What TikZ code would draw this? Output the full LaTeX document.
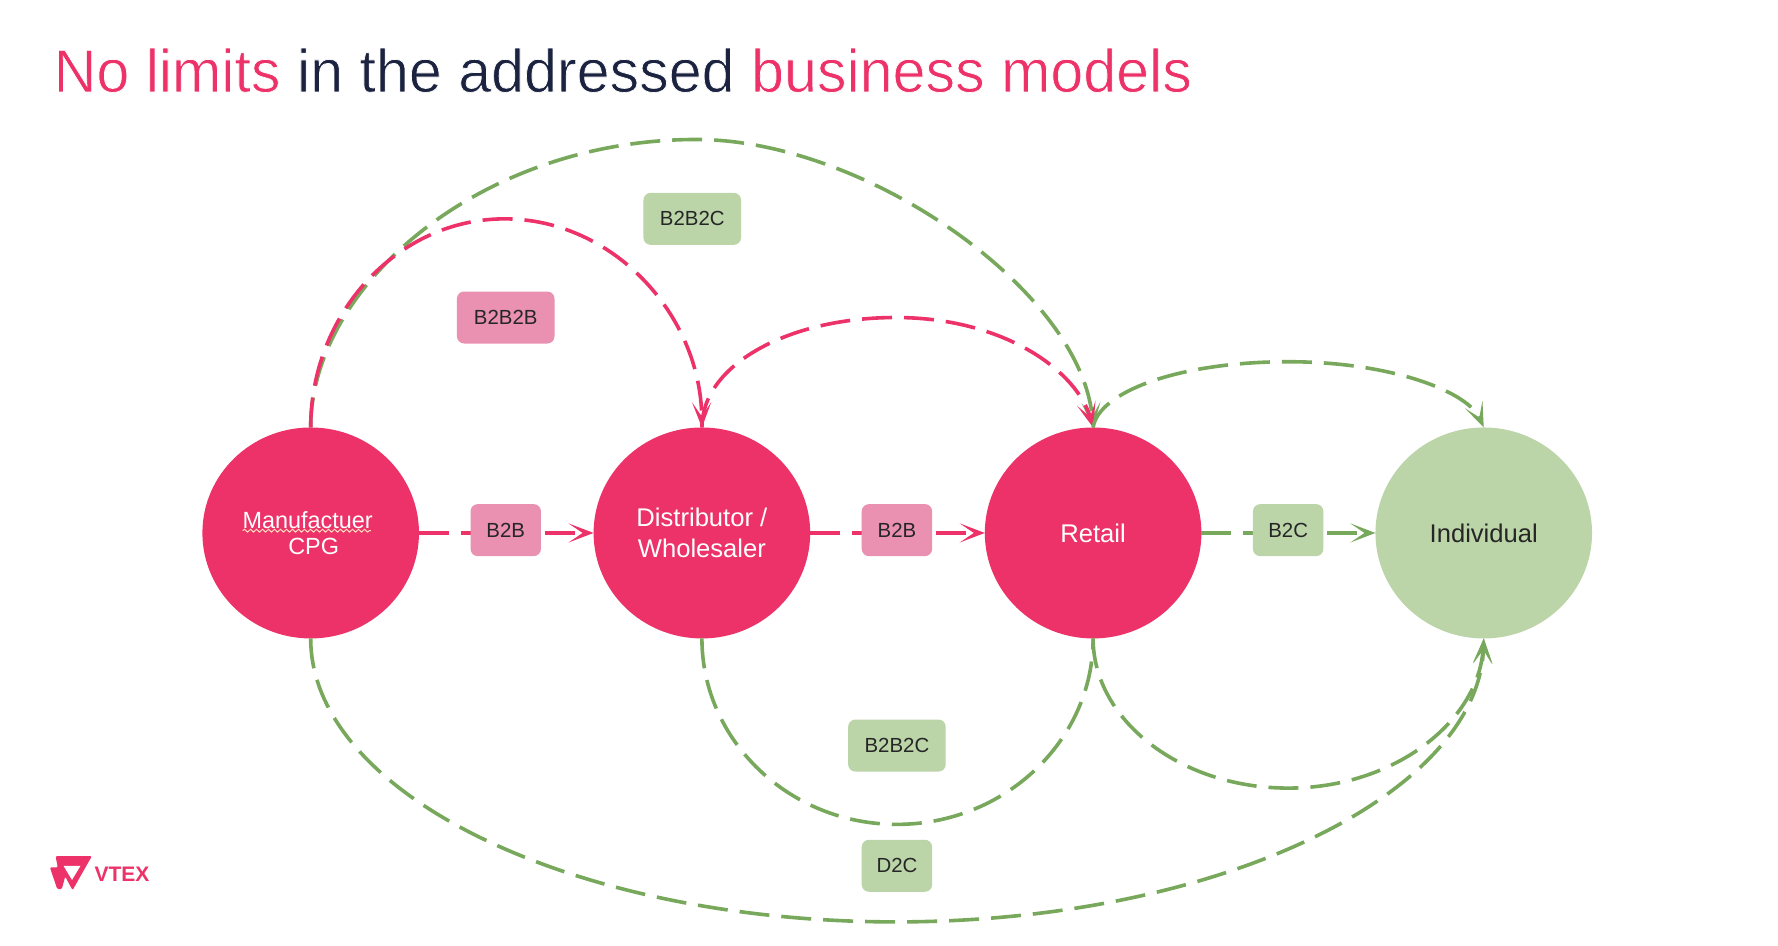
\documentclass[tikz,border=0pt]{standalone}
\usepackage{fontspec}
\setmainfont{Liberation Sans}
\usetikzlibrary{shapes.geometric,arrows.meta,decorations.pathmorphing}
\definecolor{vpink}{HTML}{EC3268}
\definecolor{vlpink}{HTML}{EA90B0}
\definecolor{vgreen}{HTML}{BBD5A9}
\definecolor{vdgreen}{HTML}{78A85B}
\definecolor{vnavy}{HTML}{1B2340}
\newcommand{\thintext}[2]{\textcolor{#1}{\special{pdf:code 2 Tr 0.35 w 1 1 1 RG}#2\special{pdf:code 0 Tr}}}
\tikzset{
  party/.style={ellipse,minimum width=108.3pt,minimum height=105.5pt,inner sep=0pt,outer sep=0pt,align=center,
    font=\fontsize{12.8}{15.4}\selectfont},
  pinkparty/.style={party,fill=vpink,text=white},
  greenparty/.style={party,fill=vgreen,text=black!85},
  tag/.style={rounded corners=3.6pt,minimum height=26pt,inner sep=0pt,outer sep=0pt,text=black!85,
    font=\fontsize{10.2}{12}\selectfont},
  tagshort/.style={tag,minimum width=35.2pt},
  taglong/.style={tag,minimum width=48.8pt},
  flow/.style={line width=1.8pt,dash pattern=on 15pt off 6pt},
  pinkflow/.style={flow,draw=vpink},
  greenflow/.style={flow,draw=vdgreen},
  head/.style={-{Stealth[length=12.5pt,width=9.5pt,inset=7pt]}},
}
\begin{document}
\begin{tikzpicture}[x=0.567pt,y=-0.567pt]
\useasboundingbox (0,0) rectangle (1568,834.2);
\fill[white] (0,0) rectangle (1568,834.2);
\node[anchor=base west,inner sep=0pt,font=\addfontfeature{FakeStretch=0.98}\fontsize{30.2}{36}\selectfont] (title) at (47,81)
  {\thintext{vpink}{No limits} \thintext{vnavy}{in the addressed} \thintext{vpink}{business models}};

\node[pinkparty,font=\fontsize{11.7}{13}\selectfont] (mfr) at (274,470) {Manufactuer\hspace*{3pt}\\\hspace*{3pt}CPG};
\node[pinkparty] (dist) at (619,470) {Distributor /\\Wholesaler};
\node[pinkparty] (retail) at (964,470) {Retail};
\node[greenparty] (indiv) at (1308.5,470) {Individual};

\coordinate (w1) at (214,468);
\coordinate (w2) at (327,468);
\draw[decorate,decoration={snake,amplitude=0.7pt,segment length=3pt},draw=orange!25!white,line width=0.5pt] (w1) -- (w2);

\coordinate (p1) at (445,193);
\coordinate (p2) at (614,123);
\coordinate (p3) at (790,280);
\coordinate (p4) at (1136,319);
\coordinate (p5) at (791,727);
\coordinate (p6) at (1136,695);
\coordinate (p7) at (790,813);

% upper arcs
\draw[greenflow,head] (mfr.north) .. controls +(0,-125) and +(-190,0) .. (p2) .. controls +(150,0) and +(-10,-120) .. (retail.north);
\draw[pinkflow,head] (mfr.north) .. controls +(0,-100) and +(-95,0) .. (p1) .. controls +(95,0) and +(-1,-100) .. (dist.north);
\draw[pinkflow,head] (dist.north) .. controls +(0,-55) and +(-95,0) .. (p3) .. controls +(95,0) and +(-14,-50) .. (retail.north);
\draw[greenflow,head] (retail.north) .. controls +(5,-32) and +(-95,0) .. (p4) .. controls +(90,0) and +(-14,-32) .. (indiv.north);

% lower arcs
\draw[greenflow] (dist.south) .. controls +(0,90) and +(-95,0) .. (p5) .. controls +(95,0) and +(0,90) .. (retail.south);
\draw[greenflow,head] (retail.south) .. controls +(0,72) and +(-95,0) .. (p6) .. controls +(95,0) and +(-4,72) .. (indiv.south);
\draw[greenflow,head] (mfr.south) .. controls +(0,137) and +(-285,0) .. (p7) .. controls +(285,0) and +(-4,137) .. (indiv.south);

% straight
\draw[pinkflow,head] (mfr.east) -- (dist.west);
\draw[pinkflow,head] (dist.east) -- (retail.west);
\draw[greenflow,head] (retail.east) -- (indiv.west);

% tags
\node[tagshort,fill=vlpink] (t1) at (446,467.5) {B2B};
\node[tagshort,fill=vlpink] (t2) at (791,467.5) {B2B};
\node[tagshort,fill=vgreen] (t3) at (1136,467.5) {B2C};
\node[taglong,fill=vlpink] (t4) at (446,280) {B2B2B};
\node[taglong,fill=vgreen] (t5) at (610.5,193) {B2B2C};
\node[taglong,fill=vgreen] (t6) at (791,657.5) {B2B2C};
\node[tagshort,fill=vgreen] (t7) at (791,763.5) {D2C};

% logo
\fill[vpink,rounded corners=0.6pt] (49,755) -- (81,755) -- (64,785) -- (57.5,773) -- (54.5,784) -- (50.5,784) -- (44,765) -- (51,765) -- cycle;
\fill[white] (56,763.5) -- (71,763.5) -- (63.5,776) -- cycle;
\node[anchor=base west,inner sep=0pt,text=vpink,font=\bfseries\fontsize{10.5}{13}\selectfont] (vtex) at (83,777) {VTEX};
\end{tikzpicture}
\end{document}
